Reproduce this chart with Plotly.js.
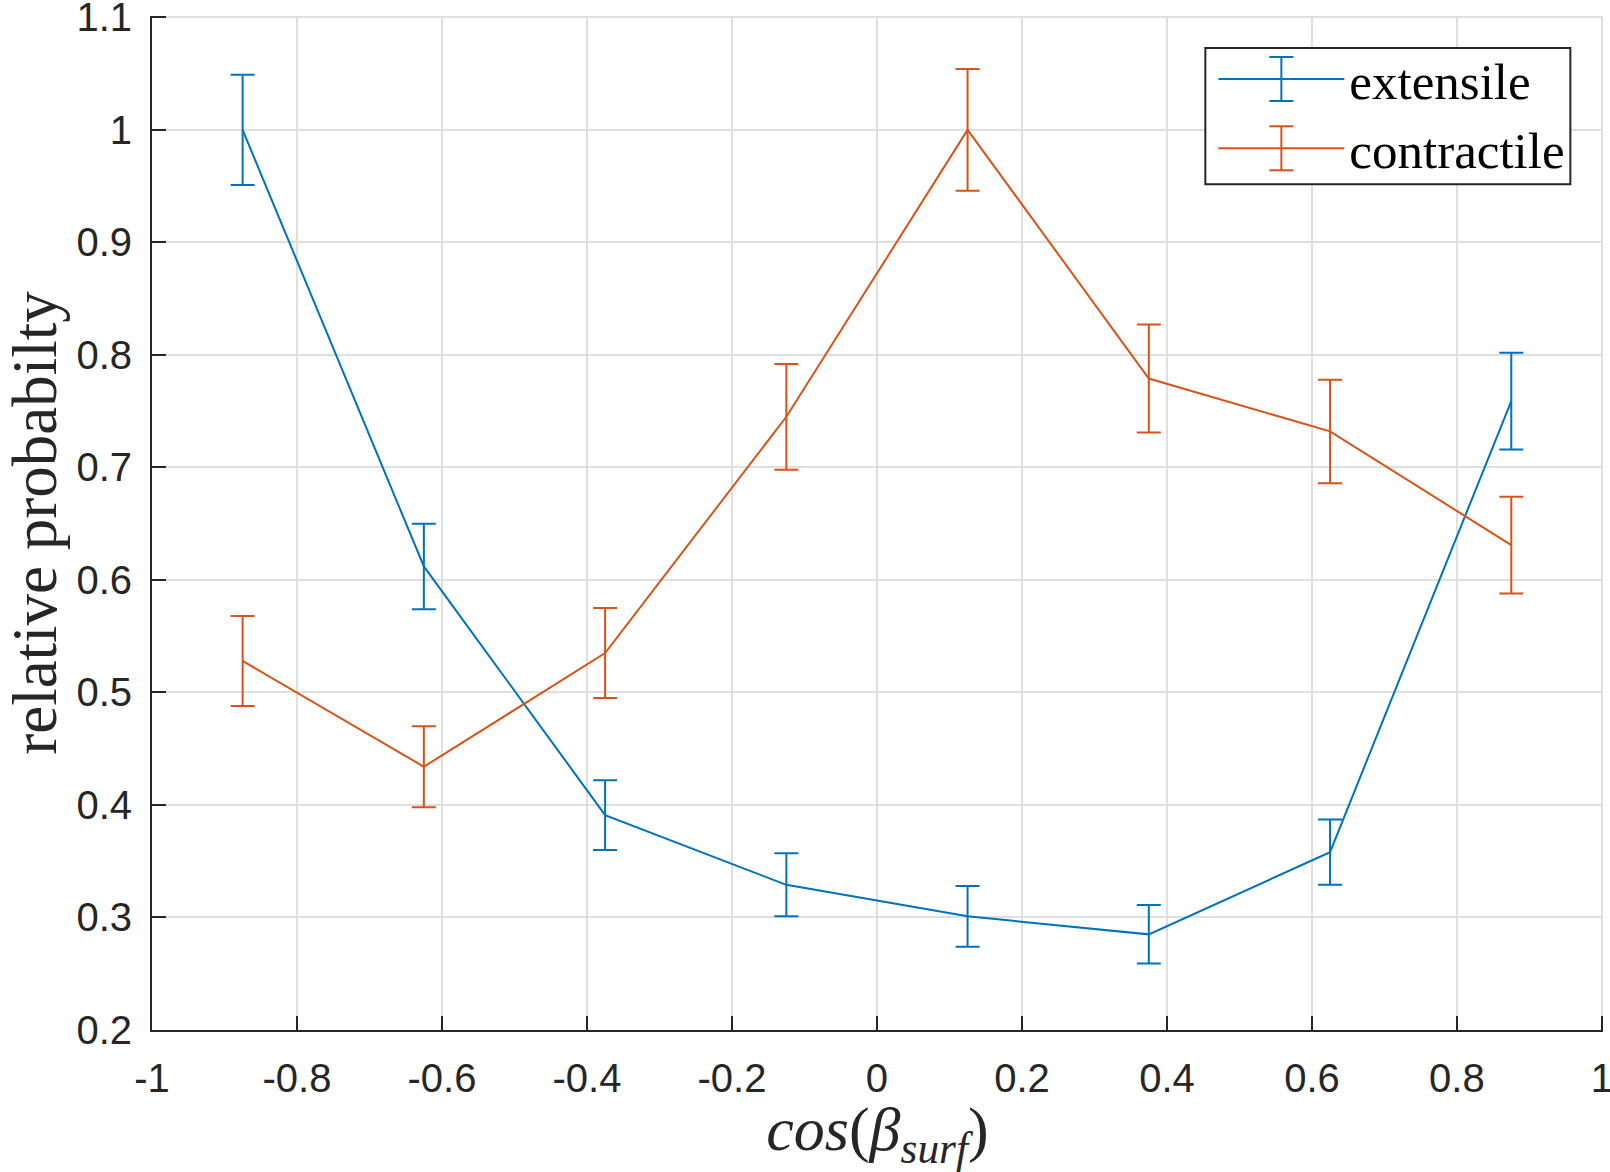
<!DOCTYPE html>
<html>
<head>
<meta charset="utf-8">
<script src="https://cdn.plot.ly/plotly-3.0.1.min.js"></script>
<style>
  html, body { margin: 0; padding: 0; background: #fff; }
  #chart { width: 1610px; height: 1172px; }
</style>
</head>
<body>
<div id="chart"></div>
<script>
// bin centres of cos(beta_surf)
const cosBeta = [-0.875, -0.625, -0.375, -0.125, 0.125, 0.375, 0.625, 0.875];

const extensile = [1.0, 0.612, 0.391, 0.329, 0.301, 0.285, 0.358, 0.759];
const extensileErr = [0.049, 0.038, 0.031, 0.028, 0.027, 0.026, 0.029, 0.043];

const contractile = [0.528, 0.434, 0.535, 0.745, 1.0, 0.779, 0.732, 0.631];
const contractileErr = [0.040, 0.036, 0.040, 0.047, 0.054, 0.048, 0.046, 0.043];

const xTicks = [-1, -0.8, -0.6, -0.4, -0.2, 0, 0.2, 0.4, 0.6, 0.8, 1];
const yTicks = [0.2, 0.3, 0.4, 0.5, 0.6, 0.7, 0.8, 0.9, 1, 1.1];

const BLUE = '#0072BD';
const ORANGE = '#D95319';
const W = 1610, H = 1172;
const M = { l: 152, r: 7, t: 16, b: 142 };

function errTrace(name, y, err, color) {
    return {
        x: cosBeta,
        y: y,
        name: name,
        type: 'scatter',
        mode: 'lines',
        line: { color: color, width: 2 },
        error_y: {
            type: 'data',
            array: err,
            visible: true,
            color: color,
            thickness: 2,
            width: 12
        }
    };
}

let data = [
    errTrace('extensile', extensile, extensileErr, BLUE),
    errTrace('contractile', contractile, contractileErr, ORANGE)
];

let axisCommon = {
    showline: true,
    linecolor: '#262626',
    linewidth: 2,
    mirror: false,
    ticks: 'inside',
    ticklen: 14,
    tickwidth: 2,
    tickcolor: '#262626',
    showgrid: true,
    gridcolor: '#dfdfdf',
    gridwidth: 2,
    zeroline: false,
    ticklabeloverflow: 'allow',
    tickfont: { family: 'Liberation Sans, Arial, sans-serif', size: 40, color: '#262626' }
};

let layout = {
    width: W,
    height: H,
    margin: M,
    paper_bgcolor: '#fff',
    plot_bgcolor: '#fff',
    showlegend: true,
    xaxis: Object.assign({}, axisCommon, {
        range: [-1, 1.0015],
        tickvals: xTicks,
        ticktext: xTicks.map(String),
        ticklabelstandoff: 12,
        title: {
            text: '<i>cos</i>(<i>β</i><sub><i>surf</i></sub>)',
            font: { family: 'Liberation Serif, serif', size: 62, color: '#262626' },
            standoff: 10
        }
    }),
    yaxis: Object.assign({}, axisCommon, {
        range: [0.2, 1.1012],
        tickvals: yTicks,
        ticktext: yTicks.map(String),
        ticklabelstandoff: 10,
        title: {
            text: 'relative probabilty',
            font: { family: 'Liberation Serif, serif', size: 63, color: '#262626' },
            standoff: 0
        }
    }),
    legend: {
        x: 0.9775,
        y: 0.977,
        xanchor: 'right',
        yanchor: 'top',
        bgcolor: 'rgba(0,0,0,0)',
        borderwidth: 0,
        itemwidth: 126,
        font: { family: 'Liberation Serif, serif', size: 51, color: '#000' },
        tracegroupgap: 0
    }
};

// legend box and the I-shaped error bar glyph across each legend line,
// placed from where plotly drew the legend
function addLegendBars(gd) {
    let box = gd.getBoundingClientRect();
    let plotW = W - M.l - M.r, plotH = H - M.t - M.b;
    let px = function(v) { return (v - M.l) / plotW; };
    let py = function(v) { return (H - M.b - v) / plotH; };
    let colors = [BLUE, ORANGE];
    let shapes = [];
    let rows = [];

    gd.querySelectorAll('.legend .traces').forEach(function(g) {
        let line = g.querySelector('.legendlines path');
        if (!line) return;
        let r = line.getBoundingClientRect();
        rows.push({
            left: r.left - box.left,
            cx: r.left + r.width / 2 - box.left,
            cy: r.top + r.height / 2 - box.top
        });
    });

    let bg = gd.querySelector('.legend rect.bg');
    if (bg && rows.length) {
        let r = bg.getBoundingClientRect();
        shapes.push({
            type: 'rect', xref: 'paper', yref: 'paper',
            x0: px(rows[0].left - 13), x1: px(r.right - box.left),
            y0: py(rows[rows.length - 1].cy + 36), y1: py(rows[0].cy - 31),
            fillcolor: '#fff', line: { color: '#262626', width: 2 }
        });
    }

    rows.forEach(function(row, i) {
        let style = { color: colors[i], width: 2 };
        let half = 22, cap = 12;
        let cx = row.cx, cy = row.cy;
        shapes.push({ type: 'line', xref: 'paper', yref: 'paper', x0: px(cx), x1: px(cx), y0: py(cy - half), y1: py(cy + half), line: style });
        shapes.push({ type: 'line', xref: 'paper', yref: 'paper', x0: px(cx - cap), x1: px(cx + cap), y0: py(cy - half), y1: py(cy - half), line: style });
        shapes.push({ type: 'line', xref: 'paper', yref: 'paper', x0: px(cx - cap), x1: px(cx + cap), y0: py(cy + half), y1: py(cy + half), line: style });
    });
    return Plotly.relayout(gd, { shapes: shapes });
}

Plotly.newPlot('chart', data, layout, { displayModeBar: false, staticPlot: true })
    .then(addLegendBars);
</script>
</body>
</html>
